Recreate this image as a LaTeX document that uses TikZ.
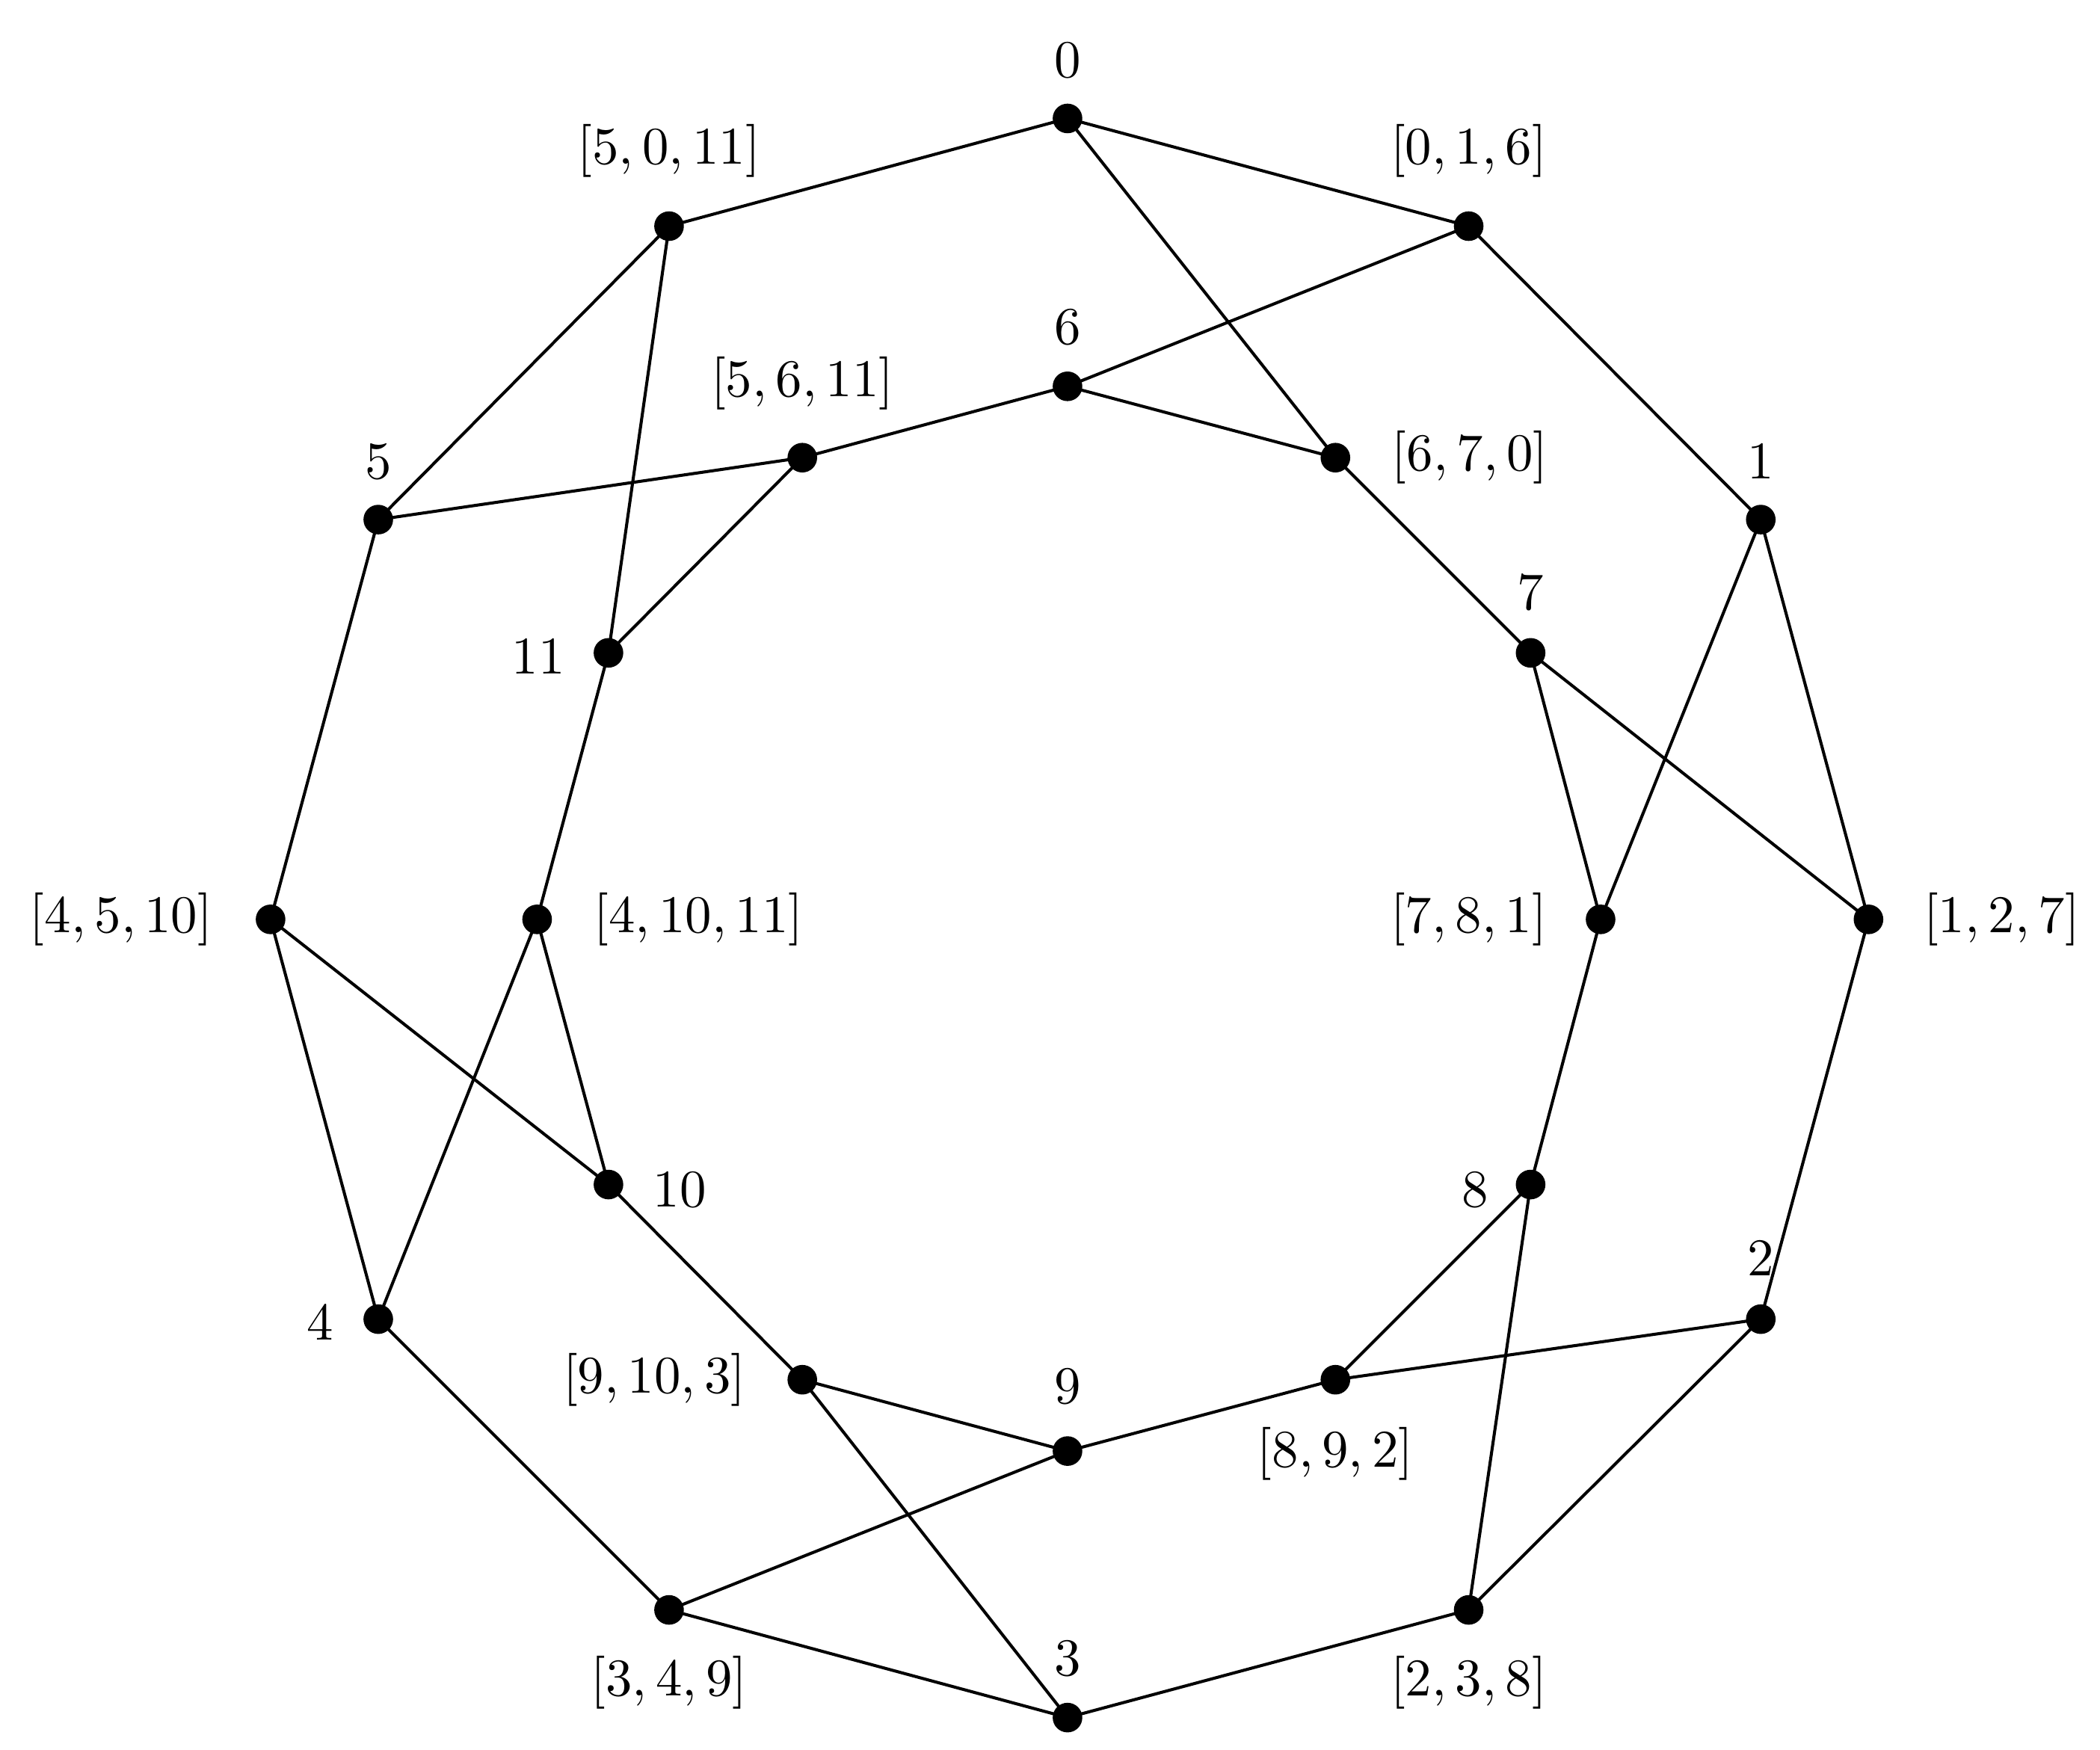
\documentclass[tikz,border=0pt]{standalone}
\begin{document}
\begin{tikzpicture}[x=0.05cm,y=-0.05cm,
  dot/.style={circle,fill=black,inner sep=0pt,minimum size=1.1cm},
  lab/.style={scale=5.6},
  edge/.style={line width=3.2pt}]
\useasboundingbox (0,0) rectangle (1560,1300);
\foreach \n/\x/\y/\lx/\ly/\t in {
 a0/793/88/793/45/{0}, a016/1091/168/1091/112/{[0,1,6]}, a1/1308/386/1308/343/{1},
 a127/1388/683/1487/683/{[1,2,7]}, a2/1308/980/1308/935/{2}, a238/1091/1196/1091/1250/{[2,3,8]},
 a3/793/1276/793/1232/{3}, a349/497/1196/497/1250/{[3,4,9]}, a4/281/980/238/983/{4},
 a4510/201/683/90/683/{[4,5,10]}, a5/281/386/281/343/{5}, a5011/497/168/497/112/{[5,0,11]},
 a6/793/287/793/243/{6}, a670/992/340/1092/340/{[6,7,0]}, a7/1137/485/1137/440/{7},
 a781/1189/683/1091/683/{[7,8,1]}, a8/1137/880/1096/884/{8}, a892/992/1025/992/1080/{[8,9,2]},
 a9/793/1078/793/1030/{9}, a9103/596/1025/486/1025/{[9,10,3]}, a10/452/880/505/884/{10},
 a41011/399/683/519/683/{[4,10,11]}, a11/452/485/400/488/{11}, a5611/596/340/596/285/{[5,6,11]}}
 {\node[dot] (\n) at (\x,\y) {}; \node[lab] (l\n) at (\lx,\ly) {$\t$};}
\foreach \a/\b in {a0/a016,a016/a1,a1/a127,a127/a2,a2/a238,a238/a3,a3/a349,a349/a4,a4/a4510,a4510/a5,a5/a5011,a5011/a0,
 a6/a670,a670/a7,a7/a781,a781/a8,a8/a892,a892/a9,a9/a9103,a9103/a10,a10/a41011,a41011/a11,a11/a5611,a5611/a6,
 a0/a670,a016/a6,a1/a781,a7/a127,a2/a892,a8/a238,a3/a9103,a9/a349,a4/a41011,a10/a4510,a5/a5611,a11/a5011}
 {\draw[edge] (\a.center) -- (\b.center);}
\end{tikzpicture}
\end{document}
